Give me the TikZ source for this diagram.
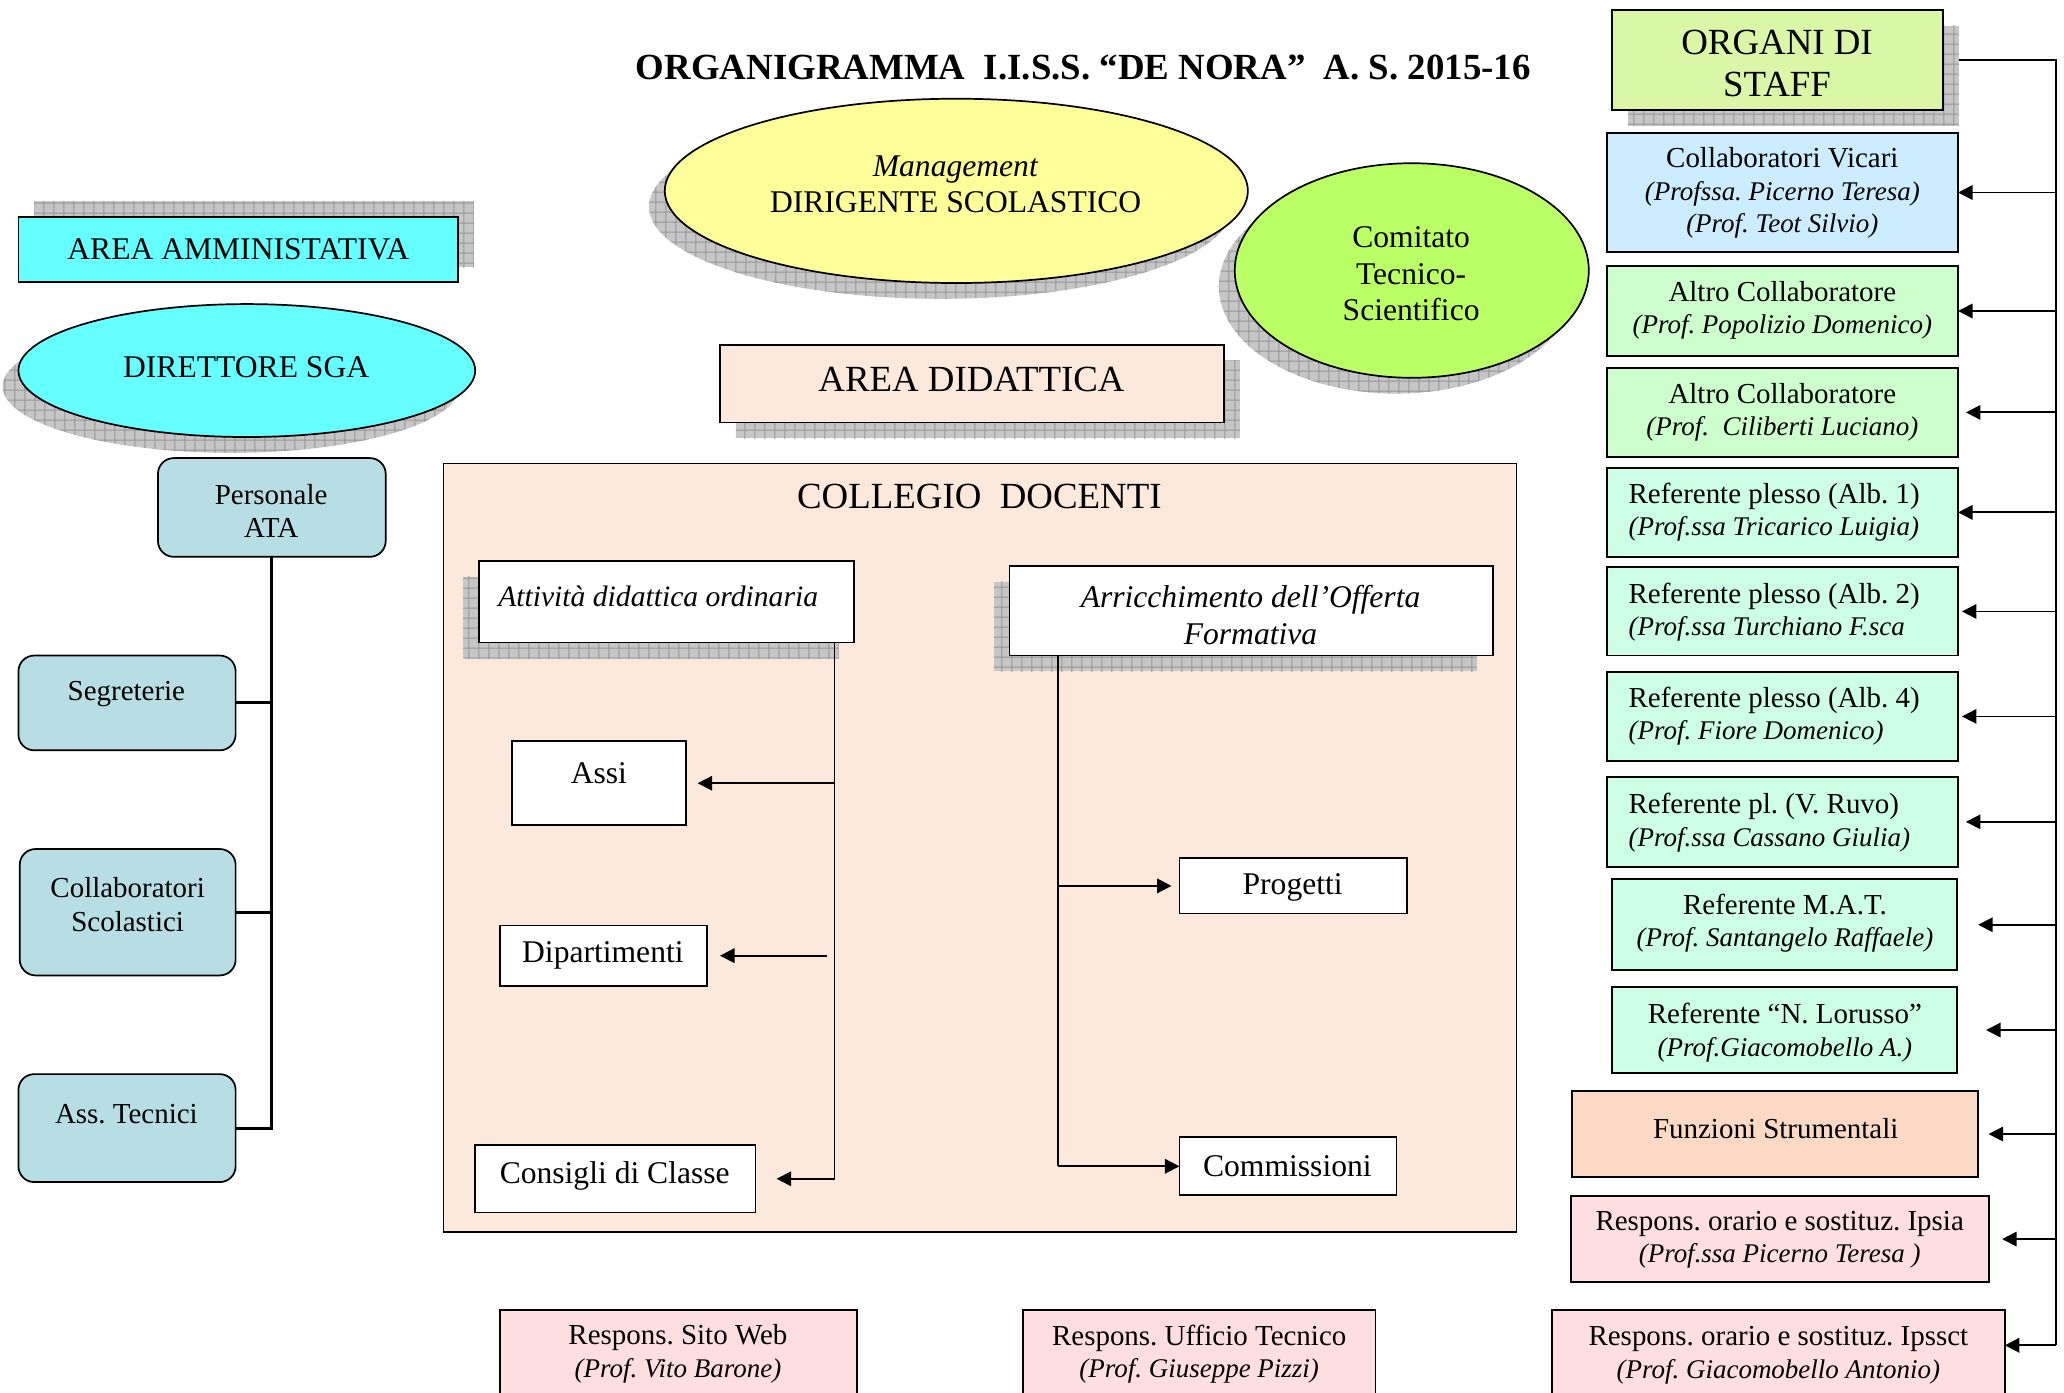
\documentclass[tikz,border=0pt]{standalone}
\usepackage{fontspec}
\setmainfont{Liberation Serif}
\usetikzlibrary{shapes.geometric,arrows.meta,patterns.meta}
\definecolor{cyanbox}{RGB}{102,255,255}
\definecolor{atacol}{RGB}{183,222,228}
\definecolor{mgmtcol}{RGB}{255,255,153}
\definecolor{ctscol}{RGB}{187,255,102}
\definecolor{didcol}{RGB}{252,233,219}
\definecolor{orgcol}{RGB}{217,247,167}
\definecolor{vicol}{RGB}{204,236,255}
\definecolor{altcol}{RGB}{204,255,204}
\definecolor{refcol}{RGB}{204,255,230}
\definecolor{funcol}{RGB}{252,217,196}
\definecolor{rescol}{RGB}{255,222,226}
\definecolor{shgray}{RGB}{198,198,198}
\definecolor{shline}{RGB}{150,150,150}
\tikzdeclarepattern{
  name=shadowgrid,
  type=uncolored,
  bounding box={(0pt,0pt) and (7.5pt,7.5pt)},
  tile size={(7.5pt,7.5pt)},
  code={\draw[line width=0.7pt] (0pt,3.75pt) -- (7.5pt,3.75pt) (3.75pt,0pt) -- (3.75pt,7.5pt);}
}
\newcommand{\mkbox}[6]{\node[#6, rectangle, inner sep=0pt, outer sep=0pt, minimum width={(#4)-(#2)}, minimum height={(#5)-(#3)}] (#1) at ({((#2)+(#4))/2},{((#3)+(#5))/2}) {};}
\newcommand{\mkell}[6]{\node[#6, ellipse, inner sep=0pt, outer sep=0pt, minimum width={2*(#4)}, minimum height={2*(#5)}] (#1) at (#2,#3) {};}
\newcommand{\persona}[1]{{\fontsize{20.5}{24.5}\selectfont\itshape #1}}
\frenchspacing
\begin{document}
\begin{tikzpicture}[x=1pt,y=-1pt,
  shadowst/.style={draw=none, fill=shgray, postaction={pattern=shadowgrid, pattern color=shline}},
  bx/.style={draw=black, line width=1.3pt},
  conn/.style={line width=1.4pt},
  arr/.style={line width=1.4pt, -{Triangle[length=11pt,width=11pt]}},
  t22/.style={inner sep=0pt, align=center, font=\fontsize{22}{24.5}\selectfont},
  t24/.style={inner sep=0pt, align=center, font=\fontsize{24}{28}\selectfont},
  t28/.style={inner sep=0pt, align=center, font=\fontsize{28}{32}\selectfont},
]
\useasboundingbox[fill=white] (0,0) rectangle (1568,1058);

% title
\node[inner sep=0pt, font=\bfseries\fontsize{28}{30}\selectfont] (title) at (823,51) {ORGANIGRAMMA\ \ I.I.S.S. “DE NORA”\ \ A. S. 2015-16};

% ---------- left: area amministrativa ----------
\mkbox{aammsh}{26}{153}{360}{203}{shadowst}
\mkbox{aamm}{14}{165}{348}{214}{bx, fill=cyanbox}
\node[t24] (aammt) at (181,189) {AREA AMMINISTATIVA};

\mkell{dsgash}{175.5}{293.5}{173.5}{50.5}{shadowst}
\mkell{dsga}{187.5}{281.5}{173.5}{50.5}{bx, fill=cyanbox}
\node[t24] (dsgat) at (187,279) {DIRETTORE SGA};

\mkbox{ata}{120}{348}{293}{423}{bx, fill=atacol, rounded corners=12pt}
\node[t22, font=\fontsize{22}{25}\selectfont] (atat) at (206,388) {Personale\\ATA};
\mkbox{segr}{14}{498}{179}{570}{bx, fill=atacol, rounded corners=12pt}
\node[t22] (segrt) at (96,527) {Segreterie};
\mkbox{colls}{15}{645}{179}{741}{bx, fill=atacol, rounded corners=12pt}
\node[t22, font=\fontsize{22}{26}\selectfont] (collst) at (97,687) {Collaboratori\\Scolastici};
\mkbox{asst}{14}{816}{179}{898}{bx, fill=atacol, rounded corners=12pt}
\node[t22] (asstt) at (96,846) {Ass. Tecnici};

\draw[line width=2.2pt] (ata.south) |- (asst.east);
\draw[line width=2.2pt] (segr.east) -- (segr.east -| ata.south);
\draw[line width=2.2pt] (colls.east) -- (colls.east -| ata.south);

% ---------- centre: management ----------
\mkell{mgmtsh}{714.5}{157}{221.5}{70}{shadowst}
\mkell{mgmt}{726.5}{145}{221.5}{70}{bx, fill=mgmtcol}
\node[t24] (mgmtt) at (726,140) {\textit{Management}\\DIRIGENTE SCOLASTICO};

\mkell{ctssh}{1060.5}{217.5}{134.5}{81.5}{shadowst}
\mkell{cts}{1072.5}{205.5}{134.5}{81.5}{bx, fill=ctscol}
\node[t24] (ctst) at (1072,208) {Comitato\\Tecnico-\\Scientifico};

\mkbox{didsh}{559}{274}{942}{333}{shadowst}
\mkbox{did}{547}{262}{930}{321}{bx, fill=didcol}
\node[t28] (didt) at (738,288) {AREA DIDATTICA};

% ---------- collegio docenti ----------
\mkbox{cd}{337}{352}{1152}{936}{bx, fill=didcol}
\node[t28] (cdt) at (744,377) {COLLEGIO\ \ DOCENTI};

\mkbox{attsh}{352}{438}{637}{500}{shadowst}
\mkbox{att}{364}{426}{649}{488}{bx, fill=white}
\node[t22, font=\fontsize{22.5}{26}\itshape] (attt) at (500,453) {Attività didattica ordinaria};

\mkbox{arrsh}{755}{442}{1122}{510}{shadowst}
\mkbox{arr}{767}{430}{1134}{498}{bx, fill=white}
\node[t24, font=\fontsize{24}{28}\itshape] (arrt) at (950,467) {Arricchimento dell’Offerta\\Formativa};

\mkbox{assi}{389}{563}{521}{627}{bx, fill=white}
\node[t24] (assit) at (455,587) {Assi};
\mkbox{dip}{380}{703}{537}{749}{bx, fill=white}
\node[t24] (dipt) at (458,726) {Dipartimenti};
\mkbox{cons}{361}{870}{574}{921}{bx, fill=white}
\node[t24] (const) at (467,893) {Consigli di Classe};
\mkbox{prog}{896}{652}{1069}{694}{bx, fill=white}
\node[t24] (progt) at (982,674) {Progetti};
\mkbox{comm}{896}{864}{1061}{908}{bx, fill=white}
\node[t24] (commt) at (978,886) {Commissioni};

\coordinate (aj) at (634,488);
\coordinate (bj) at (804,498);
\draw[conn] (aj) -- (aj |- cons.east);
\draw[arr, shorten >=9pt] (aj |- assi.east) -- (assi.east);
\draw[arr, shorten <=6pt, shorten >=10pt] (aj |- dip.east) -- (dip.east);
\draw[arr, shorten >=16pt] (aj |- cons.east) -- (cons.east);
\draw[conn] (bj) -- (bj |- comm.west);
\draw[arr, shorten >=6pt] (bj |- prog.west) -- (prog.west);
\draw[arr] (bj |- comm.west) -- (comm.west);

% ---------- bottom ----------
\mkbox{web}{380}{995}{651}{1075}{bx, fill=rescol}
\node[t22] (webt) at (515,1028.5) {Respons. Sito Web\\\persona{(Prof. Vito Barone)}};
\mkbox{uff}{777}{995}{1045}{1075}{bx, fill=rescol}
\node[t22] (ufft) at (911,1028.5) {Respons. Ufficio Tecnico\\\persona{(Prof. Giuseppe Pizzi)}};

% ---------- right: organi di staff ----------
\mkbox{orgsh}{1236.6}{19.6}{1488}{95.6}{shadowst}
\mkbox{org}{1224.6}{7.6}{1476}{83.6}{bx, fill=orgcol}
\node[t28] (orgt) at (1350,48) {ORGANI DI\\STAFF};

\mkbox{cv}{1221}{101}{1487.5}{191.5}{bx, fill=vicol}
\node[t22] (cvt) at (1354,146.5) {Collaboratori Vicari\\\persona{(Profssa. Picerno Teresa)}\\\persona{(Prof. Teot Silvio)}};
\mkbox{alt1}{1221}{202}{1487.5}{270.5}{bx, fill=altcol}
\node[t22] (alt1t) at (1354,236) {Altro Collaboratore\\\persona{(Prof. Popolizio Domenico)}};
\mkbox{alt2}{1221}{279.6}{1487.5}{347}{bx, fill=altcol}
\node[t22] (alt2t) at (1354,313.5) {Altro Collaboratore\\\persona{(Prof.\ \ Ciliberti Luciano)}};
\mkbox{alb1}{1221}{355.5}{1487.5}{423}{bx, fill=refcol}
\node[t22, align=left, anchor=west] (alb1t) at (1237,389) {Referente plesso (Alb. 1)\\\persona{(Prof.ssa Tricarico Luigia)}};
\mkbox{alb2}{1221}{431}{1487.5}{498}{bx, fill=refcol}
\node[t22, align=left, anchor=west] (alb2t) at (1237,465) {Referente plesso (Alb. 2)\\\persona{(Prof.ssa Turchiano F.sca}};
\mkbox{alb4}{1221}{510.5}{1487.5}{578}{bx, fill=refcol}
\node[t22, align=left, anchor=west] (alb4t) at (1237,544) {Referente plesso (Alb. 4)\\\persona{(Prof. Fiore Domenico)}};
\mkbox{ruvo}{1221}{590}{1487.5}{658.7}{bx, fill=refcol}
\node[t22, align=left, anchor=west] (ruvot) at (1237,625) {Referente pl. (V. Ruvo)\\\persona{(Prof.ssa Cassano Giulia)}};
\mkbox{mat}{1224.6}{668}{1486.8}{737}{bx, fill=refcol}
\node[t22] (matt) at (1356,701.5) {Referente M.A.T.\\\persona{(Prof. Santangelo Raffaele)}};
\mkbox{lor}{1224.6}{750}{1486.8}{815}{bx, fill=refcol}
\node[t22] (lort) at (1356,784.5) {Referente “N. Lorusso”\\\persona{(Prof.Giacomobello A.)}};
\mkbox{funz}{1194}{829}{1502.7}{894}{bx, fill=funcol}
\node[t22] (funzt) at (1349,857) {Funzioni Strumentali};
\mkbox{ipsia}{1193.5}{908.6}{1511}{974}{bx, fill=rescol}
\node[t22] (ipsiat) at (1352,942) {Respons. orario e sostituz. Ipsia\\\persona{(Prof.ssa Picerno Teresa )}};
\mkbox{ipssct}{1179}{995}{1523}{1075}{bx, fill=rescol}
\node[t22] (ipssctt) at (1351,1029.5) {Respons. orario e sostituz. Ipssct\\\persona{(Prof. Giacomobello Antonio)}};

\coordinate (rtop) at (1562,45.6);
\coordinate (rbot) at (1562,1022);
\draw[conn] (org.east -| orgsh.east) -- (rtop) -- (rbot);
\draw[arr] (rbot) -- (rbot -| ipssct.east);
\draw[arr] (rtop |- cv.east) -- (cv.east);
\draw[arr] (rtop |- alt1.east) -- (alt1.east);
\draw[arr, shorten >=6pt] (rtop |- alt2.east) -- (alt2.east);
\draw[arr] (rtop |- alb1.east) -- (alb1.east);
\draw[arr, shorten >=3pt] (rtop |- alb2.east) -- (alb2.east);
\draw[arr, shorten >=3pt] (rtop |- alb4.east) -- (alb4.east);
\draw[arr, shorten >=6pt] (rtop |- ruvo.east) -- (ruvo.east);
\draw[arr, shorten >=16pt] (rtop |- mat.east) -- (mat.east);
\draw[arr, shorten >=22pt] (rtop |- lor.east) -- (lor.east);
\draw[arr, shorten >=8pt] (rtop |- funz.east) -- (funz.east);
\draw[arr, shorten >=10pt] (rtop |- ipsia.east) -- (ipsia.east);
\end{tikzpicture}
\end{document}
